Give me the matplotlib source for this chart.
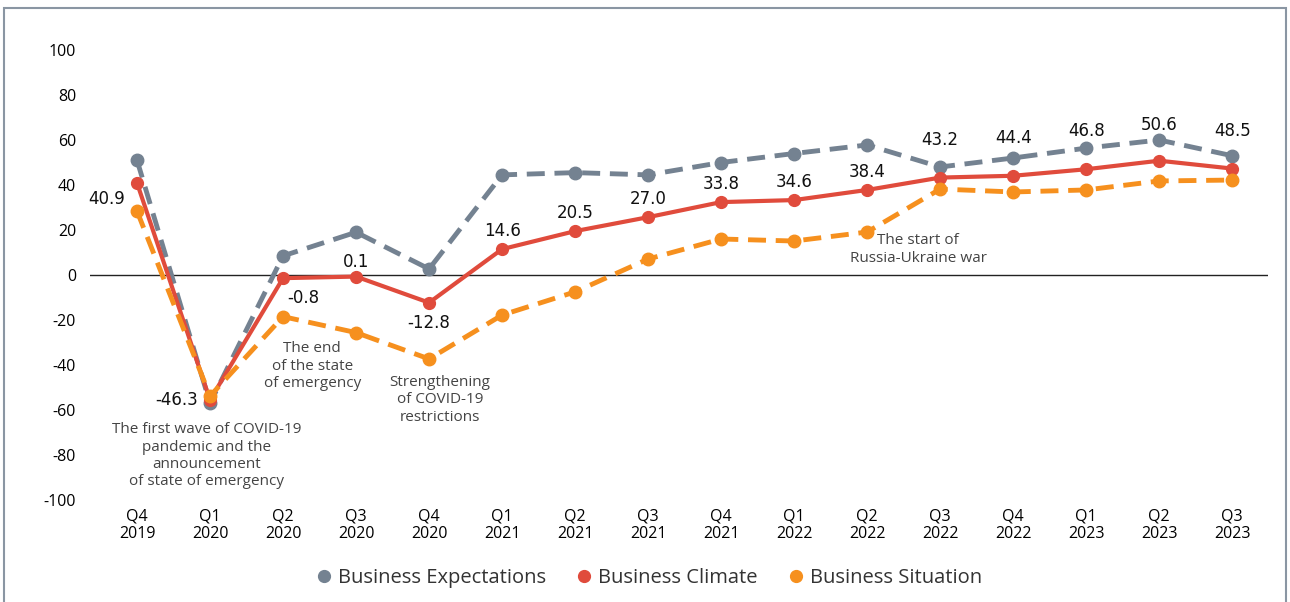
import matplotlib.pyplot as plt
from matplotlib.lines import Line2D
from matplotlib.patches import Rectangle
import numpy as np

plt.rcParams['axes.unicode_minus'] = False

quarters = ['Q4\n2019', 'Q1\n2020', 'Q2\n2020', 'Q3\n2020', 'Q4\n2020', 'Q1\n2021', 'Q2\n2021', 'Q3\n2021',
            'Q4\n2021', 'Q1\n2022', 'Q2\n2022', 'Q3\n2022', 'Q4\n2022', 'Q1\n2023', 'Q2\n2023', 'Q3\n2023']
expectations = [51, -57, 8.5, 19, 2.7, 44.5, 45.5, 44.5, 50, 54, 57.8, 48, 52, 56.4, 60, 53]
climate = [40.9, -55.5, -1.4, -0.7, -12.3, 11.5, 19.5, 25.7, 32.4, 33.3, 37.8, 43.3, 44.1, 47, 50.8, 47.3]
situation = [28.4, -53.8, -18.5, -25.6, -37.3, -17.8, -7.5, 7.1, 16, 15.1, 19.1, 38.2, 36.9, 37.8, 41.8, 42.2]
climate_labels = ['40.9', '-46.3', '-0.8', '0.1', '-12.8', '14.6', '20.5', '27.0', '33.8', '34.6', '38.4',
                  '43.2', '44.4', '46.8', '50.6', '48.5']

c_gray = '#748291'
c_red = '#e04b3c'
c_orange = '#f6901e'

fig = plt.figure(figsize=(12.9, 6.02), dpi=100)
ax = fig.add_axes([90 / 1290, 102 / 602, 1178 / 1290, 450 / 602])
x = np.arange(len(quarters))

ax.plot(x, expectations, color=c_gray, lw=3.5, dashes=(3.7, 2.0), marker='o', ms=9, zorder=3)
ax.plot(x, climate, color=c_red, lw=3, marker='o', ms=8.5, zorder=4)
ax.plot(x, situation, color=c_orange, lw=3.5, dashes=(3.7, 2.0), marker='o', ms=9, zorder=5)

ax.axhline(0, color='#222222', lw=1, zorder=2)
ax.set_xlim(-0.644, 15.49)
ax.set_ylim(-100, 100)
ax.set_yticks(range(-100, 101, 20))
ax.set_xticks(x)
ax.set_xticklabels(quarters, fontsize=11.5, family='Open Sans', linespacing=1.15)
for lab in ax.get_yticklabels():
    lab.set_family('Open Sans')
    lab.set_fontsize(11.5)
ax.tick_params(length=0)
ax.tick_params(axis='y', pad=10)
ax.tick_params(axis='x', pad=6)
for s in ax.spines.values():
    s.set_visible(False)

# value labels for business climate: (dx px, dy px, ha)
offsets = [(-12, -16, 'right'), (-12, 0, 'right'), (4, -20, 'left'), (0, 15, 'center'), (0, -20, 'center')]
for i, lab in enumerate(climate_labels):
    if i < len(offsets):
        dx, dy, ha = offsets[i]
    elif i >= 11:
        dx, dy, ha = (0, 38, 'center') if i != 14 else (0, 36, 'center')
    else:
        dx, dy, ha = 0, 18, 'center'
    ax.annotate(lab, (x[i], climate[i]), xytext=(dx * 0.72, dy * 0.72), textcoords='offset points',
                ha=ha, va='center', fontsize=12, family='DejaVu Sans', color='#111111', zorder=6)

note_kw = dict(ha='center', va='top', fontsize=11, family='Open Sans', color='#444444', linespacing=1.2)
ax.text(0.95, -65.5, 'The first wave of COVID-19\npandemic and the\nannouncement\nof state of emergency', **note_kw)
ax.text(2.4, -29.5, 'The end\nof the state\nof emergency', **note_kw)
ax.text(4.15, -44.5, 'Strengthening\nof COVID-19\nrestrictions', **note_kw)
ax.text(10.7, 18.5, 'The start of\nRussia-Ukraine war', **note_kw)

handles = [Line2D([], [], color=c, marker='o', ls='none', ms=8.5) for c in (c_gray, c_red, c_orange)]
fig.legend(handles, ['Business Expectations', 'Business Climate', 'Business Situation'],
           loc='center', bbox_to_anchor=(648 / 1290, 1 - 578 / 602), ncol=3, frameon=False,
           prop={'family': 'Open Sans', 'size': 14.5}, handletextpad=0.2, columnspacing=1.4,
           handlelength=1.0, labelcolor='#333333')

fig.patches.append(Rectangle((4 / 1290, -0.05), 1282 / 1290, 1.05 - 8 / 602, transform=fig.transFigure,
                             fill=False, edgecolor='#8a96a3', lw=1.5))

fig.savefig('out.png', dpi=100)
